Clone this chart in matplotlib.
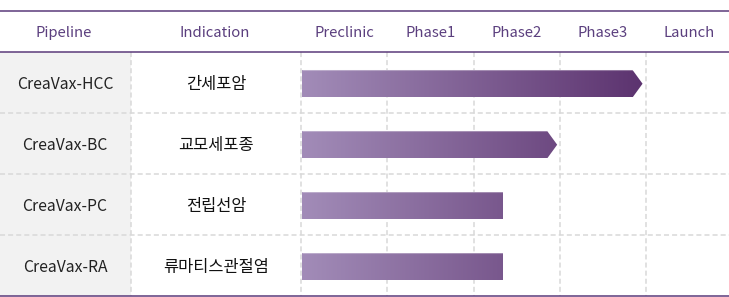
"""
Clinical pipeline table with gradient progress bars.
"""

import matplotlib.pyplot as plt
import numpy as np
from matplotlib.colors import LinearSegmentedColormap
from matplotlib.patches import Polygon, Rectangle

plt.rcParams["font.family"] = ["Noto Sans CJK KR", "DejaVu Sans"]

# data
headers = ["Pipeline", "Indication"]
stages = ["Preclinic", "Phase1", "Phase2", "Phase3", "Launch"]
pipelines = ["CreaVax-HCC", "CreaVax-BC", "CreaVax-PC", "CreaVax-RA"]
indications = ["간세포암", "교모세포종", "전립선암", "류마티스관절염"]
progress = [3.96, 2.97, 2.34, 2.34]  # in stage units, 0 = start of Preclinic
has_arrow = [True, True, False, False]

# layout (pixels of the 729x297 canvas)
W, H = 729, 297
STAGE_X0 = 301.0   # left edge of Preclinic column
STAGE_W = 86.25    # width of one stage column
ROW_Y0 = 52.0      # header rule
ROW_H = 61.0
PURPLE = "#5b3b7b"
HEAD_COLOR = "#5b3f7e"
GRID = "#d9d9d9"


def px2x(px):
    return (px - STAGE_X0) / STAGE_W


def px2y(py):
    return (py - ROW_Y0) / ROW_H


fig = plt.figure(figsize=(W / 100, H / 100), dpi=100)
ax = fig.add_axes([0, 0, 1, 1])
ax.set_axis_off()

n_rows = len(pipelines)
x_left, x_right = px2x(0), px2x(W)

# gray first column
ax.add_patch(Rectangle((x_left, 0), px2x(131) - x_left, n_rows,
                       facecolor="#f2f2f2", edgecolor="none", zorder=0))

# dashed grid
dash = dict(color=GRID, lw=1.1, dashes=(3.3, 2.0), zorder=1)
for i in range(1, n_rows):
    ax.plot([x_left, x_right], [i, i], **dash)
for xv in [px2x(131), 0, 1, 2, 3, 4]:
    ax.plot([xv, xv], [0, n_rows], **dash)

# solid rules
rule = dict(color=PURPLE, lw=1.1, zorder=3, solid_capstyle="butt")
ax.plot([x_left, x_right], [px2y(11), px2y(11)], **rule)
ax.plot([x_left, x_right], [0, 0], **rule)
ax.plot([x_left, x_right], [n_rows, n_rows], **rule)

# header text
head_y = px2y(33)
ax.text(px2x(64), head_y, headers[0], ha="center", va="center",
        fontsize=10.7, color=HEAD_COLOR)
ax.text(px2x(215), head_y, headers[1], ha="center", va="center",
        fontsize=10.7, color=HEAD_COLOR)
for j, s in enumerate(stages):
    ax.text(j + 0.5, head_y, s, ha="center", va="center",
            fontsize=10.7, color=HEAD_COLOR)

# body text
for i, (p, ind) in enumerate(zip(pipelines, indications)):
    ax.text(px2x(65), i + 0.53, p, ha="center", va="center",
            fontsize=11.3, color="#222222")
    ax.text(px2x(216), i + 0.53, ind, ha="center", va="center",
            fontsize=11.8, color="#111111")

# gradient bars
cmap = LinearSegmentedColormap.from_list("pipe", ["#a28cb8", "#5c336f"])
grad = np.linspace(0, 1, 256).reshape(1, -1)
bar_x0 = px2x(302)
bar_h = 0.45
arrow_len = 10 / STAGE_W
g_end = max(progress)

for i, (end, arr) in enumerate(zip(progress, has_arrow)):
    y0 = i + 0.5 - bar_h / 2 + 0.02
    y1 = y0 + bar_h
    yc = (y0 + y1) / 2
    if arr:
        pts = [(bar_x0, y0), (end - arrow_len, y0), (end, yc),
               (end - arrow_len, y1), (bar_x0, y1)]
    else:
        pts = [(bar_x0, y0), (end, y0), (end, y1), (bar_x0, y1)]
    poly = Polygon(pts, closed=True, facecolor="none", edgecolor="none")
    ax.add_patch(poly)
    im = ax.imshow(grad, cmap=cmap, aspect="auto",
                   extent=(bar_x0, g_end, y1, y0), zorder=2,
                   interpolation="bilinear")
    im.set_clip_path(poly)
    # light highlight along the top edge
    top_end = end - arrow_len if arr else end
    ax.plot([bar_x0, top_end], [y0 + 0.008, y0 + 0.008], color="white",
            alpha=0.3, lw=0.8, zorder=2.5, solid_capstyle="butt")

ax.set_xlim(x_left, x_right)
ax.set_ylim(px2y(H), px2y(0))

fig.savefig("out.png", dpi=100)
